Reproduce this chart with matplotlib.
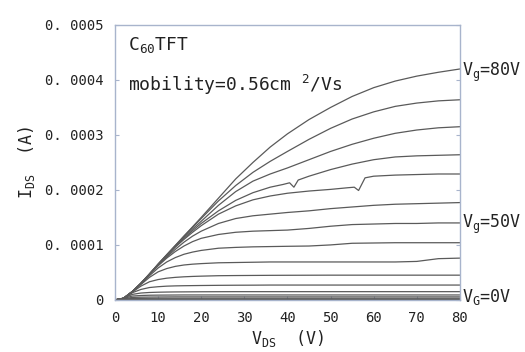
import matplotlib
matplotlib.use('Agg')
import matplotlib.pyplot as plt

# drain voltage grid (V) and drain currents (units of 1e-4 A)
vd = [0, 2, 4, 6, 8, 10, 12, 14, 16, 18, 20, 24, 28, 32, 36, 40, 45, 50, 55, 60, 65, 70, 75, 80]

id_vg80 = [0, 0.03, 0.15, 0.30, 0.47, 0.65, 0.82, 0.99, 1.16, 1.33, 1.50, 1.85, 2.20, 2.50, 2.78, 3.02, 3.28, 3.50, 3.70, 3.86, 3.98, 4.07, 4.14, 4.20]
id_vg75 = [0, 0.03, 0.15, 0.30, 0.47, 0.65, 0.82, 0.99, 1.16, 1.32, 1.48, 1.80, 2.08, 2.32, 2.52, 2.70, 2.92, 3.12, 3.29, 3.42, 3.52, 3.58, 3.62, 3.64]
id_vg70 = [0, 0.03, 0.15, 0.30, 0.47, 0.65, 0.82, 0.98, 1.14, 1.29, 1.43, 1.72, 1.97, 2.16, 2.29, 2.40, 2.55, 2.70, 2.83, 2.94, 3.03, 3.09, 3.13, 3.15]
id_vg55 = [0, 0.03, 0.15, 0.30, 0.47, 0.63, 0.78, 0.92, 1.05, 1.16, 1.25, 1.39, 1.48, 1.53, 1.56, 1.59, 1.62, 1.66, 1.69, 1.72, 1.74, 1.75, 1.76, 1.77]
id_vg50 = [0, 0.03, 0.15, 0.30, 0.46, 0.62, 0.76, 0.88, 0.98, 1.06, 1.12, 1.19, 1.23, 1.25, 1.26, 1.27, 1.30, 1.34, 1.37, 1.38, 1.39, 1.39, 1.40, 1.40]
id_vg45 = [0, 0.03, 0.15, 0.29, 0.44, 0.58, 0.69, 0.77, 0.83, 0.87, 0.90, 0.94, 0.955, 0.965, 0.97, 0.975, 0.98, 1.00, 1.03, 1.035, 1.04, 1.04, 1.04, 1.04]
id_vg40 = [0, 0.03, 0.15, 0.28, 0.41, 0.51, 0.57, 0.61, 0.635, 0.65, 0.66, 0.675, 0.68, 0.685, 0.69, 0.69, 0.69, 0.69, 0.69, 0.69, 0.69, 0.70, 0.75, 0.76]
id_vg35 = [0, 0.03, 0.14, 0.25, 0.33, 0.37, 0.395, 0.41, 0.42, 0.427, 0.432, 0.44, 0.443, 0.445, 0.447, 0.448, 0.449, 0.45, 0.45, 0.45, 0.45, 0.45, 0.45, 0.45]
id_vg30 = [0, 0.03, 0.13, 0.19, 0.225, 0.24, 0.25, 0.255, 0.258, 0.26, 0.262, 0.265, 0.267, 0.268, 0.27, 0.27, 0.27, 0.27, 0.27, 0.27, 0.27, 0.27, 0.27, 0.27]
id_vg25 = [0, 0.028, 0.10, 0.125, 0.135, 0.14, 0.143, 0.145, 0.146, 0.147, 0.148, 0.149, 0.15, 0.15, 0.15, 0.15, 0.15, 0.15, 0.15, 0.15, 0.15, 0.15, 0.15, 0.15]
id_vg20 = [0, 0.025, 0.07, 0.08, 0.085, 0.087, 0.088, 0.089, 0.09, 0.09, 0.09, 0.09, 0.09, 0.09, 0.09, 0.09, 0.09, 0.09, 0.09, 0.09, 0.09, 0.09, 0.09, 0.09]
id_vg15 = [0, 0.02, 0.045, 0.05, 0.052, 0.053, 0.054, 0.055, 0.055, 0.055, 0.055, 0.055, 0.055, 0.055, 0.055, 0.055, 0.055, 0.055, 0.055, 0.055, 0.055, 0.055, 0.055, 0.055]
id_vg10 = [0, 0.015, 0.025, 0.028, 0.029, 0.03, 0.03, 0.03, 0.03, 0.03, 0.03, 0.03, 0.03, 0.03, 0.03, 0.03, 0.03, 0.03, 0.03, 0.03, 0.03, 0.03, 0.03, 0.03]
id_vg5 = [0, 0.008, 0.011, 0.012, 0.012, 0.012, 0.012, 0.012, 0.012, 0.012, 0.012, 0.012, 0.012, 0.012, 0.012, 0.012, 0.012, 0.012, 0.012, 0.012, 0.012, 0.012, 0.012, 0.012]
id_vg0 = [0, 0.002, 0.003, 0.003, 0.003, 0.003, 0.003, 0.003, 0.003, 0.003, 0.003, 0.003, 0.003, 0.003, 0.003, 0.003, 0.003, 0.003, 0.003, 0.003, 0.003, 0.003, 0.003, 0.003]

# these two have small glitches, so they get their own voltage points
vd_vg65 = [0, 2, 4, 6, 8, 10, 12, 14, 16, 18, 20, 24, 28, 32, 36, 39, 40.5, 41.5, 42.5, 45, 50, 55, 60, 65, 70, 75, 80]
id_vg65 = [0, 0.03, 0.15, 0.30, 0.47, 0.64, 0.81, 0.97, 1.12, 1.26, 1.39, 1.62, 1.81, 1.95, 2.05, 2.10, 2.13, 2.05, 2.18, 2.25, 2.37, 2.47, 2.55, 2.60, 2.62, 2.63, 2.64]
vd_vg60 = [0, 2, 4, 6, 8, 10, 12, 14, 16, 18, 20, 24, 28, 32, 36, 40, 45, 50, 54, 55.5, 56.5, 58, 60, 65, 70, 75, 80]
id_vg60 = [0, 0.03, 0.15, 0.30, 0.47, 0.64, 0.80, 0.96, 1.10, 1.23, 1.35, 1.56, 1.71, 1.82, 1.89, 1.94, 1.98, 2.01, 2.04, 2.05, 1.99, 2.22, 2.25, 2.27, 2.28, 2.29, 2.29]

xticks = [0, 10, 20, 30, 40, 50, 60, 70, 80]
yticks = [0, 0.0001, 0.0002, 0.0003, 0.0004, 0.0005]
ytick_labels = ['0', '0. 0001', '0. 0002', '0. 0003', '0. 0004', '0. 0005']

plt.rcParams['font.family'] = ['DejaVu Sans Mono', 'DejaVu Sans']
plt.rcParams['mathtext.fontset'] = 'custom'
plt.rcParams['mathtext.rm'] = 'DejaVu Sans Mono'
plt.rcParams['mathtext.it'] = 'DejaVu Sans Mono'

fig = plt.figure(figsize=(5.25, 3.52), dpi=100)
ax = fig.add_axes([0.219, 0.148, 0.657, 0.781])

curves = [
    (vd, id_vg0), (vd, id_vg5), (vd, id_vg10), (vd, id_vg15), (vd, id_vg20),
    (vd, id_vg25), (vd, id_vg30), (vd, id_vg35), (vd, id_vg40), (vd, id_vg45),
    (vd, id_vg50), (vd, id_vg55), (vd_vg60, id_vg60), (vd_vg65, id_vg65),
    (vd, id_vg70), (vd, id_vg75), (vd, id_vg80),
]
for x, y in curves:
    ax.plot(x, [v * 1e-4 for v in y], color='#5a5a5a', lw=0.9)

ax.set_xlim(0, 80)
ax.set_ylim(0, 0.0005)
ax.set_xticks(xticks)
ax.set_xticklabels([str(t) for t in xticks])
ax.set_yticks(yticks)
ax.set_yticklabels(ytick_labels)

for s in ax.spines.values():
    s.set_color('#a8b4cc')
    s.set_linewidth(1.0)
ax.tick_params(direction='in', length=3, color='#a8b4cc', labelsize=10,
               labelcolor='#222222', right=True)
ax.tick_params(axis='x', pad=8)
ax.tick_params(axis='y', pad=8)

ax.text(3.0, 0.000464, r'$\mathregular{C_{60}}$TFT', fontsize=13, va='center', color='#222222')
ax.text(3.0, 0.000391, r'mobility=0.56cm $\mathregular{^2}$/Vs', fontsize=13, va='center', color='#222222')

ax.text(80.4, 0.000414, r'$\mathregular{V_g}$=80V', fontsize=12, va='center', color='#222222', clip_on=False)
ax.text(80.4, 0.000138, r'$\mathregular{V_g}$=50V', fontsize=12, va='center', color='#222222', clip_on=False)
ax.text(80.4, 0.000006, r'$\mathregular{V_G}$=0V', fontsize=12, va='center', color='#222222', clip_on=False)

ax.set_xlabel(r'$\mathregular{V_{DS}}$  (V)', fontsize=12, color='#222222', labelpad=2)
ax.set_ylabel(r'$\mathregular{I_{DS}}$  (A)', fontsize=12, color='#222222', labelpad=6)

fig.savefig('out.png', dpi=100)
